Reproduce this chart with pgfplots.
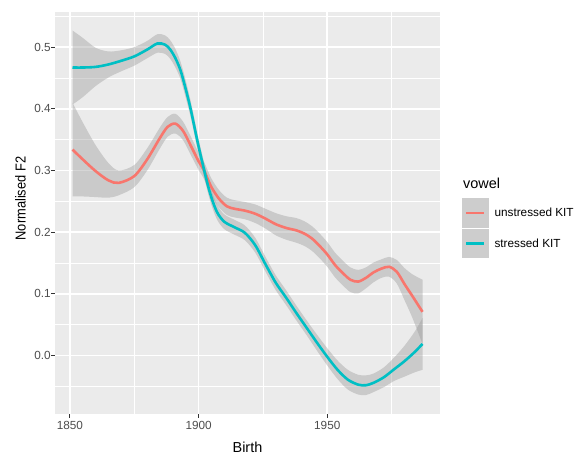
\documentclass[border=0pt]{standalone}
\usepackage{fontspec}
\setmainfont{Liberation Sans}
\usepackage{pgfplots}
\usepackage{pgfplotstable}
\pgfplotsset{compat=1.18}
\usepgfplotslibrary{fillbetween}
\definecolor{panel}{HTML}{EBEBEB}
\definecolor{ticklab}{HTML}{4D4D4D}
\definecolor{tickcol}{HTML}{333333}
\definecolor{bandcol}{HTML}{999999}
\definecolor{keyfill}{HTML}{CDCDCD}
\definecolor{redline}{HTML}{F8766D}
\definecolor{cyanline}{HTML}{00BFC4}

\pgfplotstableread{
x y se
1851 0.334 0.076
1855 0.318 0.060
1860 0.299 0.042
1865 0.284 0.028
1869 0.280 0.020
1875 0.291 0.018
1880 0.318 0.018
1885 0.353 0.017
1888 0.371 0.016
1891 0.376 0.016
1894 0.364 0.015
1897 0.340 0.015
1900 0.315 0.014
1902 0.301 0.014
1905 0.273 0.014
1908 0.254 0.014
1911 0.242 0.014
1914 0.238 0.014
1918 0.235 0.014
1922 0.230 0.015
1926 0.222 0.016
1930 0.213 0.018
1934 0.207 0.019
1938 0.203 0.020
1941 0.198 0.020
1944 0.190 0.020
1947 0.178 0.020
1950 0.164 0.020
1953 0.147 0.020
1956 0.134 0.020
1959 0.123 0.020
1962 0.120 0.019
1965 0.126 0.017
1968 0.135 0.016
1971 0.141 0.015
1974 0.144 0.016
1977 0.136 0.019
1980 0.116 0.026
1983 0.097 0.035
1987 0.071 0.052
}\unstressed

\pgfplotstableread{
x y se
1851 0.467 0.060
1855 0.467 0.048
1860 0.468 0.031
1865 0.472 0.021
1870 0.478 0.017
1875 0.485 0.015
1880 0.496 0.014
1884 0.506 0.015
1887 0.504 0.015
1889 0.496 0.015
1891 0.482 0.015
1893 0.462 0.014
1895 0.432 0.014
1897 0.398 0.013
1900 0.339 0.012
1904 0.270 0.012
1907 0.234 0.012
1910 0.217 0.012
1914 0.208 0.012
1918 0.199 0.012
1922 0.179 0.012
1926 0.148 0.012
1930 0.118 0.012
1934 0.094 0.012
1938 0.069 0.012
1942 0.045 0.012
1946 0.021 0.013
1950 -0.002 0.014
1954 -0.023 0.015
1958 -0.039 0.016
1962 -0.047 0.016
1965 -0.048 0.016
1968 -0.044 0.015
1972 -0.035 0.016
1976 -0.022 0.019
1980 -0.009 0.025
1984 0.006 0.033
1987 0.019 0.042
}\stressed

\begin{document}
\begin{tikzpicture}
\begin{axis}[
  scale only axis, width=385bp, height=402bp,
  xmin=1844.2, xmax=1993.8, ymin=-0.0946, ymax=0.557,
  clip mode=individual,
  axis background/.style={fill=panel},
  axis line style={draw=none},
  grid=both,
  major grid style={white, line width=1.6bp},
  minor grid style={white, line width=0.8bp},
  xtick={1850,1900,1950}, minor xtick={1875,1925,1975},
  ytick={0,0.1,0.2,0.3,0.4,0.5},
  minor ytick={-0.05,0.05,0.15,0.25,0.35,0.45,0.55},
  xtick pos=lower, ytick pos=left,
  tick align=outside, major tick length=3.7bp, minor tick length=0pt,
  major tick style={tickcol, line width=0.9bp},
  /pgf/number format/assume math mode=true,
  /pgf/number format/1000 sep={},
  yticklabel style={/pgf/number format/fixed, /pgf/number format/precision=1, /pgf/number format/fixed zerofill, xshift=3bp},
  tick label style={font=\fontsize{11.8}{12}\selectfont, text=ticklab},
  xlabel={Birth}, ylabel={Normalised F2},
  label style={font=\fontsize{14.5}{15}\selectfont},
  xlabel style={at={(axis description cs:0.5,-0.084)}, anchor=center},
  ylabel style={at={(axis description cs:-0.0896,0.536)}, anchor=center, xscale=0.89},
  legend style={at={(axis description cs:1.0571,0.537)}, anchor=north west,
    draw=none, fill=none, inner sep=0pt, outer sep=0pt, row sep=1bp,
    font=\fontsize{11.8}{12}\selectfont, nodes={inner sep=0pt},
    /tikz/every odd column/.append style={column sep=6bp}},
  legend cell align=left,
  legend image code/.code={\fill[keyfill] (0bp,-13.5bp) rectangle (24bp,13.5bp);
    \draw[#1,line width=2.6bp] (3bp,0bp) -- (21bp,0bp);},
]
% unstressed
\addplot[draw=none, smooth, name path=ru, forget plot] table[x=x, y expr=\thisrow{y}+\thisrow{se}] {\unstressed};
\addplot[draw=none, smooth, name path=rl, forget plot] table[x=x, y expr=\thisrow{y}-\thisrow{se}] {\unstressed};
\addplot[fill=bandcol, fill opacity=0.4, draw=none, forget plot] fill between[of=ru and rl];
\addplot[redline, line width=2.6bp, smooth] table[x=x, y=y] {\unstressed};
\addlegendentry{unstressed KIT}
% stressed
\addplot[draw=none, smooth, name path=cu, forget plot] table[x=x, y expr=\thisrow{y}+\thisrow{se}] {\stressed};
\addplot[draw=none, smooth, name path=cl, forget plot] table[x=x, y expr=\thisrow{y}-\thisrow{se}] {\stressed};
\addplot[fill=bandcol, fill opacity=0.4, draw=none, forget plot] fill between[of=cu and cl];
\addplot[cyanline, line width=2.6bp, smooth] table[x=x, y=y] {\stressed};
\addlegendentry{stressed KIT}
\node[anchor=west, font=\fontsize{14.5}{15}\selectfont, inner sep=0pt] at (axis description cs:1.0597,0.574) {vowel};
\end{axis}
\pgfresetboundingbox
\path (-55bp,-43bp) rectangle (521bp,414bp);
\end{tikzpicture}
\end{document}
